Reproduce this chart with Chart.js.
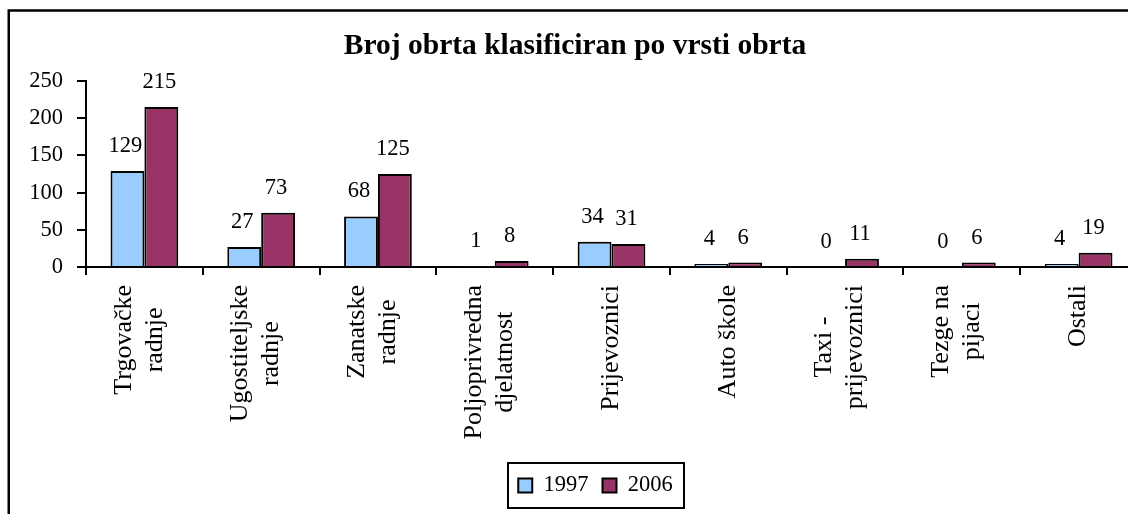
<!DOCTYPE html>
<html><head><meta charset="utf-8">
<script src="https://cdn.jsdelivr.net/npm/chart.js@4.4.0/dist/chart.umd.min.js"></script>
<style>html,body{margin:0;padding:0;overflow:hidden;background:#fff}canvas{display:block}</style>
</head><body>
<canvas id="c" width="1150" height="530"></canvas>
<script>
const categories = [["Trgovačke","radnje"],["Ugostiteljske","radnje"],["Zanatske","radnje"],["Poljoprivredna","djelatnost"],["Prijevoznici"],["Auto škole"],["Taxi -","prijevoznici"],["Tezge na","pijaci"],["Ostali"]];
const values1997 = [129,27,68,1,34,4,0,0,4];
const values2006 = [215,73,125,8,31,6,11,6,19];
const yTicks = [0,50,100,150,200,250];
const seriesNames = ["1997","2006"];
const titleText = "Broj obrta klasificiran po vrsti obrta";

const FONT = '"Liberation Serif", "Times New Roman", serif';
Chart.defaults.font.family = FONT;
Chart.defaults.color = '#000';

const framePlugin = {
  id: 'frame',
  afterLayout(chart) {
    const lg = chart.legend;
    if (lg) { lg.left += 20.5; lg.right += 20.5; }
  },
  afterDatasetsDraw(chart) {
    const ctx = chart.ctx;
    ctx.save();
    ctx.font = '22.5px ' + FONT;
    ctx.fillStyle = '#000';
    ctx.textAlign = 'center';
    ctx.textBaseline = 'alphabetic';
    chart.data.datasets.forEach((ds, di) => {
      const meta = chart.getDatasetMeta(di);
      meta.data.forEach((bar, i) => {
        ctx.fillText(String(ds.data[i]), bar.x - 2, bar.y - 19);
      });
    });
    ctx.restore();
  },
  afterDraw(chart) {
    const ctx = chart.ctx;
    const xs = chart.scales.x;
    ctx.save();
    ctx.font = '26px ' + FONT;
    ctx.fillStyle = '#000';
    const lh = 31;
    categories.forEach((lines, i) => {
      const cx = xs.getPixelForTick(i);
      const n = lines.length;
      const maxW = Math.max(...lines.map(l => ctx.measureText(l).width));
      const topY = xs.top + 18;
      lines.forEach((line, j) => {
        const lx = cx + (j - (n - 1) / 2) * lh - (n - 1) * 5;
        ctx.save();
        ctx.translate(lx, topY + maxW / 2);
        ctx.rotate(-Math.PI / 2);
        ctx.textAlign = 'center';
        ctx.textBaseline = 'middle';
        ctx.fillText(line, 0, 0);
        ctx.restore();
      });
    });
    // legend border
    const hb = chart.legend.legendHitBoxes;
    if (hb && hb.length) {
      const l = hb[0].left - 10;
      const r = hb[hb.length - 1].left + hb[hb.length - 1].width + 11;
      const cy = hb[0].top + hb[0].height / 2;
      ctx.strokeStyle = '#000';
      ctx.lineWidth = 2;
      ctx.strokeRect(Math.round(l) + 0.0, Math.round(cy - 22.5), Math.round(r - l), 45);
    }
    // outer frame
    ctx.lineWidth = 2.5;
    ctx.strokeStyle = '#000';
    ctx.strokeRect(8.75, 10.5, 2000, 2000);
    ctx.restore();
  }
};

new Chart(document.getElementById('c'), {
  type: 'bar',
  data: {
    labels: categories,
    datasets: [
      { label: seriesNames[0], data: values1997, backgroundColor: '#99CCFF', borderColor: '#000', borderWidth: 2 },
      { label: seriesNames[1], data: values2006, backgroundColor: '#993366', borderColor: '#000', borderWidth: 2 }
    ]
  },
  options: {
    responsive: false,
    animation: false,
    devicePixelRatio: 1,
    categoryPercentage: 0.58,
    barPercentage: 1.0,
    layout: { padding: { left: 13, right: 13, top: 10, bottom: 23.25 } },
    plugins: {
      tooltip: { enabled: false },
      title: {
        display: true,
        text: titleText,
        color: '#000',
        font: { family: FONT, size: 29.5, weight: 'bold' },
        padding: { top: 19, bottom: 16.6 }
      },
      legend: {
        position: 'bottom',
        labels: {
          color: '#000',
          font: { family: FONT, size: 22.5 },
          boxWidth: 14,
          boxHeight: 14,
          padding: 14
        }
      }
    },
    scales: {
      x: {
        type: 'category',
        ticks: { display: false },
        grid: { offset: true, drawOnChartArea: false, drawTicks: true, tickLength: 8, color: '#000', lineWidth: 2 },
        border: { color: '#000', width: 2 },
        afterFit(s) { s.height = 193.25; }
      },
      y: {
        min: 0, max: 250,
        afterBuildTicks(s) { s.ticks = yTicks.map(v => ({ value: v })); },
        ticks: { color: '#000', font: { family: FONT, size: 22.5 }, padding: 14 },
        grid: { drawOnChartArea: false, drawTicks: true, tickLength: 9, color: '#000', lineWidth: 2 },
        border: { color: '#000', width: 2 },
        afterFit(s) { s.width = 73; }
      }
    }
  },
  plugins: [framePlugin]
});
</script>
</body></html>
